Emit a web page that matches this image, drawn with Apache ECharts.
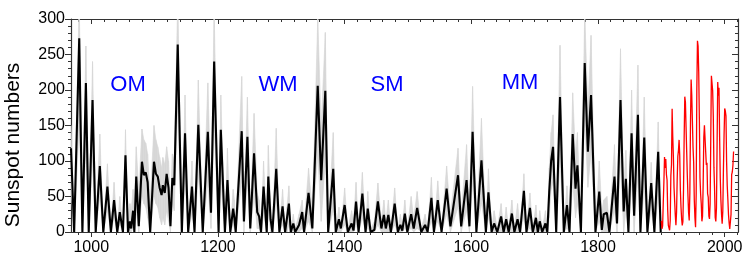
<!DOCTYPE html>
<html>
<head>
<meta charset="utf-8">
<script src="https://cdn.jsdelivr.net/npm/echarts@6/dist/echarts.min.js"></script>
<style>
  html, body { margin: 0; padding: 0; background: #fff; }
  #chart { width: 747px; height: 261px; }
</style>
</head>
<body>
<div id="chart"></div>
<script>
// reconstructed sunspot numbers (peaks and troughs)
var years = [
  968, 973, 981, 986, 991.5, 996, 1002, 1007, 1013.5, 1019, 1025.5, 1031, 1036, 1041, 1045, 1050,
  1054, 1058, 1061, 1063, 1066, 1068, 1071, 1075, 1080, 1083, 1086, 1089, 1093,
  1099, 1102, 1105, 1108, 1111, 1113, 1116, 1119, 1122, 1125, 1128, 1131, 1136.5, 1143,
  1148, 1153, 1159, 1163, 1169, 1176, 1184, 1189, 1194, 1201, 1204.5, 1211, 1215, 1219.5,
  1224, 1226, 1228, 1237.5, 1241, 1246.5, 1251, 1257, 1262, 1265, 1268, 1272, 1277,
  1279.5, 1283, 1286, 1292, 1297, 1302, 1306, 1309, 1312, 1315, 1319, 1322, 1328, 1333, 1336,
  1343, 1349, 1357.5, 1363, 1369.5, 1374, 1382, 1386, 1391, 1394, 1400, 1405, 1411, 1414, 1418, 1422,
  1428, 1433, 1436.5, 1441, 1447, 1452.5, 1458, 1462, 1465, 1469, 1473, 1479, 1484, 1488, 1491,
  1495, 1499, 1505, 1509, 1514.5, 1521, 1527, 1531, 1537, 1541, 1547, 1553, 1561, 1567,
  1579, 1584, 1592.5, 1597, 1602, 1608, 1616, 1623, 1627, 1632, 1636, 1641, 1647, 1651,
  1655, 1659, 1664, 1668, 1673, 1677, 1683, 1687, 1692.5, 1697, 1702, 1705, 1708, 1712, 1717, 1720,
  1723, 1726, 1729, 1734, 1740, 1746, 1751, 1755, 1760, 1764.5, 1767.5, 1773, 1779, 1784, 1789, 1796,
  1802, 1806, 1809, 1814, 1818, 1826, 1830, 1835.5, 1840.5, 1844, 1848, 1853, 1857, 1863, 1867,
  1873, 1878, 1884, 1889, 1895, 1899
];
var sunspots = [
  118, 0, 273, 0, 210, 0, 186, 0, 93, 0, 64, 0, 45, 0, 28, 0,
  108, 0, 15, 5, 30, 0, 78, 8, 99, 80, 84, 70, 0,
  99, 82, 78, 62, 52, 66, 55, 82, 62, 8, 76, 66, 264, 0,
  139, 0, 64, 0, 151, 0, 141, 27, 240, 0, 144, 0, 73, 0,
  33, 20, 0, 142, 15, 134, 5, 111, 28, 22, 0, 64, 0,
  78, 18, 0, 89, 0, 36, 0, 20, 40, 0, 12, 0, 10, 28, 0,
  55, 5, 206, 73, 199, 0, 89, 0, 18, 5, 38, 0, 12, 2, 43, 0,
  54, 0, 33, 0, 3, 43, 5, 24, 5, 24, 0, 40, 0, 10, 2,
  26, 0, 25, 5, 34, 0, 10, 0, 48, 0, 45, 0, 61, 8,
  80, 8, 73, 8, 141, 0, 101, 0, 56, 0, 12, 0, 22, 0,
  18, 0, 26, 0, 18, 0, 58, 0, 34, 0, 20, 0, 15, 0, 12, 0,
  57, 100, 120, 0, 190, 0, 38, 0, 138, 61, 94, 0, 238, 113, 193, 0,
  57, 3, 25, 27, 0, 78, 12, 186, 29, 75, 0, 139, 23, 165, 0,
  133, 0, 69, 0, 113, 0
];
var bandUpper = [
  150, 5, 330, 5, 262, 5, 240, 5, 138, 5, 96, 5, 70, 5, 50, 5,
  144, 20, 40, 30, 60, 40, 120, 60, 145, 130, 125, 110, 45,
  150, 130, 120, 105, 90, 105, 95, 120, 100, 40, 110, 100, 330, 5,
  193, 5, 100, 5, 214, 5, 210, 60, 310, 5, 193, 5, 118, 5,
  60, 45, 5, 219, 40, 190, 20, 167, 55, 45, 5, 100, 5,
  122, 40, 5, 146, 5, 60, 5, 35, 65, 5, 25, 5, 25, 45, 10,
  90, 30, 300, 150, 281, 10, 140, 5, 35, 5, 62, 5, 30, 15, 70, 5,
  84, 5, 57, 5, 15, 69, 15, 45, 15, 45, 5, 62, 5, 25, 10,
  45, 5, 50, 20, 57, 5, 25, 5, 77, 5, 72, 5, 93, 25,
  118, 25, 123, 25, 205, 10, 160, 5, 89, 5, 30, 5, 40, 5,
  35, 5, 45, 5, 40, 5, 82, 5, 55, 5, 38, 5, 30, 5, 30, 5,
  90, 140, 165, 10, 263, 10, 65, 10, 196, 110, 140, 10, 310, 172, 277, 10,
  100, 30, 45, 50, 10, 123, 35, 258, 60, 115, 10, 200, 50, 235, 10,
  190, 10, 98, 10, 155, 10
];
var bandLower = [
  60, 0, 150, 0, 120, 0, 100, 0, 50, 0, 30, 0, 20, 0, 10, 0,
  60, 0, 0, 0, 5, 0, 30, 0, 50, 40, 35, 20, 0,
  50, 40, 35, 20, 10, 20, 10, 30, 15, 0, 40, 30, 180, 0,
  70, 0, 25, 0, 80, 0, 70, 5, 150, 0, 70, 0, 30, 0,
  10, 5, 0, 70, 0, 70, 0, 50, 5, 5, 0, 25, 0,
  35, 0, 0, 40, 0, 10, 0, 0, 10, 0, 0, 0, 0, 5, 0,
  15, 0, 110, 15, 100, 0, 30, 0, 0, 0, 10, 0, 0, 0, 10, 0,
  20, 0, 5, 0, 0, 10, 0, 0, 0, 0, 0, 10, 0, 0, 0,
  5, 0, 5, 0, 5, 0, 0, 0, 15, 0, 15, 0, 25, 0,
  35, 0, 30, 0, 70, 0, 40, 0, 20, 0, 0, 0, 0, 0,
  0, 0, 0, 0, 0, 0, 20, 0, 5, 0, 0, 0, 0, 0, 0, 0,
  20, 60, 70, 0, 100, 0, 5, 0, 70, 20, 40, 0, 160, 63, 110, 0,
  15, 0, 0, 0, 0, 30, 0, 100, 0, 30, 0, 70, 0, 80, 0,
  60, 0, 30, 0, 50, 0
];

// observed yearly sunspot numbers 1900-2014
var obsStart = 1900;
var observed = [
  15.7, 4.6, 8.5, 40.8, 70.1, 105.5, 90.1, 102.8, 80.9, 73.2,
  30.9, 9.5, 6.0, 2.4, 16.1, 79.0, 95.0, 173.6, 134.6, 105.7,
  62.7, 43.5, 23.7, 9.7, 27.9, 74.0, 106.5, 114.7, 129.7, 108.2,
  59.4, 35.1, 18.6, 9.2, 14.6, 60.2, 132.8, 190.6, 182.6, 148.0,
  113.0, 79.2, 50.8, 27.1, 16.1, 55.3, 154.3, 214.7, 193.0, 190.7,
  118.9, 98.3, 45.0, 20.1, 6.6, 54.2, 200.7, 269.3, 261.7, 225.1,
  159.0, 76.4, 53.4, 39.9, 15.0, 22.0, 66.8, 132.9, 150.2, 149.4,
  148.0, 94.4, 97.6, 54.1, 49.2, 22.5, 18.4, 39.3, 131.0, 220.1,
  218.9, 198.9, 162.4, 91.0, 60.5, 20.6, 14.8, 33.9, 123.0, 211.1,
  191.8, 203.3, 133.0, 76.1, 44.9, 25.1, 11.6, 28.9, 88.3, 136.3,
  173.9, 170.4, 163.6, 99.3, 65.3, 45.8, 24.7, 12.6, 4.2, 4.8,
  24.9, 80.8, 84.5, 94.0, 113.3
];

// grand minima labels
var eraNames = ['OM', 'WM', 'SM', 'MM'];
var eraYears = [1058, 1295, 1467, 1677];
var eraLevel = [207, 207, 207, 210];

var majorYears = [1000, 1200, 1400, 1600, 1800, 2000];
var minorYears = [];
for (var y = 980; y <= 2020; y += 20) minorYears.push(y);

var chart = echarts.init(document.getElementById('chart'));
var axisColor = '#333';
var font = 'Liberation Sans, Arial, sans-serif';
var bandColor = '#d6d6d6';

function xAx(pos, ticks, len, inside, labels) {
  return {
    type: 'value', position: pos, min: 968, max: 2021,
    axisLine: {show: true, onZero: false, lineStyle: {color: axisColor, width: 1.2}},
    axisTick: {show: true, inside: inside, length: len, customValues: ticks, lineStyle: {color: axisColor}},
    axisLabel: labels ? {
      show: true, customValues: majorYears, color: '#000', fontSize: 16, fontFamily: font, margin: 8,
      formatter: function (v) { return String(v); }
    } : {show: false},
    splitLine: {show: false}
  };
}

// uncertainty band as quads between consecutive points
var bandData = [];
for (var i = 0; i < years.length - 1; i++) {
  bandData.push([years[i], bandLower[i], bandUpper[i], years[i + 1], bandLower[i + 1], bandUpper[i + 1]]);
}

function renderBand(params, api) {
  var a = api.coord([api.value(0), api.value(1)]);
  var b = api.coord([api.value(0), api.value(2)]);
  var c = api.coord([api.value(3), api.value(5)]);
  var d = api.coord([api.value(3), api.value(4)]);
  return {
    type: 'polygon',
    shape: {points: [a, b, c, d]},
    style: {fill: bandColor, stroke: bandColor, lineWidth: 0.6}
  };
}

var option = {
  animation: false,
  backgroundColor: '#fff',
  grid: {left: 71, right: 9, top: 19, bottom: 29, containLabel: false},
  xAxis: [
    xAx('bottom', majorYears, 5, false, true),
    xAx('bottom', minorYears, 3, false, false),
    xAx('top', majorYears, 5, true, false),
    xAx('top', minorYears, 3, true, false)
  ],
  yAxis: [{
    type: 'value', position: 'left', min: 0, max: 300, interval: 50,
    axisLine: {show: true, lineStyle: {color: axisColor, width: 1.2}},
    axisTick: {show: true, length: 6, lineStyle: {color: axisColor}},
    minorTick: {show: true, splitNumber: 5, length: 3, lineStyle: {color: axisColor}},
    axisLabel: {color: '#000', fontSize: 16, fontFamily: font, margin: 6},
    splitLine: {show: false}
  }, {
    type: 'value', position: 'right', min: 0, max: 300, interval: 50,
    axisLine: {show: true, lineStyle: {color: axisColor, width: 1.2}},
    axisTick: {show: true, inside: true, length: 6, lineStyle: {color: axisColor}},
    minorTick: {show: true, splitNumber: 5, length: 3, lineStyle: {color: axisColor}},
    axisLabel: {show: false},
    splitLine: {show: false}
  }],
  graphic: [{
    type: 'text', x: 13, y: 145, rotation: Math.PI / 2,
    style: {text: 'Sunspot numbers', fontSize: 21, fontFamily: font, fill: '#000', align: 'center', verticalAlign: 'middle'}
  }],
  series: [{
    name: 'band', type: 'custom', silent: true, clip: true,
    renderItem: renderBand,
    encode: {x: [0, 3], y: [1, 2, 4, 5]},
    data: bandData
  }, {
    name: 'reconstruction', type: 'line', symbol: 'none',
    lineStyle: {color: '#000', width: 2.1},
    data: years.map(function (t, i) { return [t, sunspots[i]]; })
  }, {
    name: 'observed', type: 'line', symbol: 'none',
    lineStyle: {color: '#ff0000', width: 1.3},
    data: observed.map(function (v, i) { return [obsStart + i, v]; })
  }, {
    name: 'eras', type: 'scatter', symbolSize: 0, silent: true,
    itemStyle: {opacity: 1},
    label: {show: true, position: 'inside', formatter: '{b}', color: '#0000ff', opacity: 1, fontSize: 22, fontFamily: font},
    data: eraNames.map(function (n, i) { return {name: n, value: [eraYears[i], eraLevel[i]]}; })
  }]
};
chart.setOption(option);
</script>
</body>
</html>
